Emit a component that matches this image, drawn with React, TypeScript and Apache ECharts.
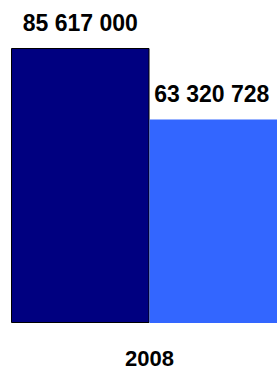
import React, { useEffect, useRef } from "react";
import * as echarts from "echarts";

const categories = ["2008"];
const seriesA = [85617000];
const seriesB = [63320728];

const fmt = (v: number) => String(v).replace(/\B(?=(\d{3})+(?!\d))/g, " ");

export default function App() {
  const ref = useRef<HTMLDivElement>(null);
  useEffect(() => {
    if (!ref.current) return;
    const chart = echarts.init(ref.current, null, { renderer: "svg" });
    const font = "'Liberation Sans', Arial, sans-serif";
    chart.setOption({
      animation: false,
      grid: {
        left: 11,
        width: 277,
        top: 48,
        bottom: 46,
        containLabel: false,
        outerBoundsMode: "none",
      },
      xAxis: {
        type: "category",
        data: categories,
        axisLine: { show: false },
        axisTick: { show: false },
        axisLabel: {
          margin: 24,
          color: "#000",
          fontSize: 22,
          fontWeight: "bold",
          fontFamily: font,
        },
      },
      yAxis: {
        type: "value",
        min: 0,
        max: seriesA[0],
        show: false,
        splitLine: { show: false },
      },
      series: [
        {
          type: "bar",
          data: seriesA,
          barGap: "0%",
          barCategoryGap: "0%",
          itemStyle: { color: "#000080", borderColor: "#000", borderWidth: 1 },
          label: {
            show: true,
            position: "top",
            distance: 14,
            color: "#000",
            fontSize: 23,
            fontWeight: "bold",
            fontFamily: font,
            formatter: (p: any) => fmt(p.value),
          },
        },
        {
          type: "bar",
          data: seriesB,
          barGap: "0%",
          barCategoryGap: "0%",
          itemStyle: { color: "#3366FF" },
          label: {
            show: true,
            position: "top",
            distance: 14,
            offset: [-7, 0],
            color: "#000",
            fontSize: 23,
            fontWeight: "bold",
            fontFamily: font,
            formatter: (p: any) => fmt(p.value),
          },
        },
      ],
    });
    return () => chart.dispose();
  }, []);
  return (
    <div
      ref={ref}
      style={{ position: "fixed", left: 0, top: 0, width: 277, height: 369, background: "#fff" }}
    />
  );
}
